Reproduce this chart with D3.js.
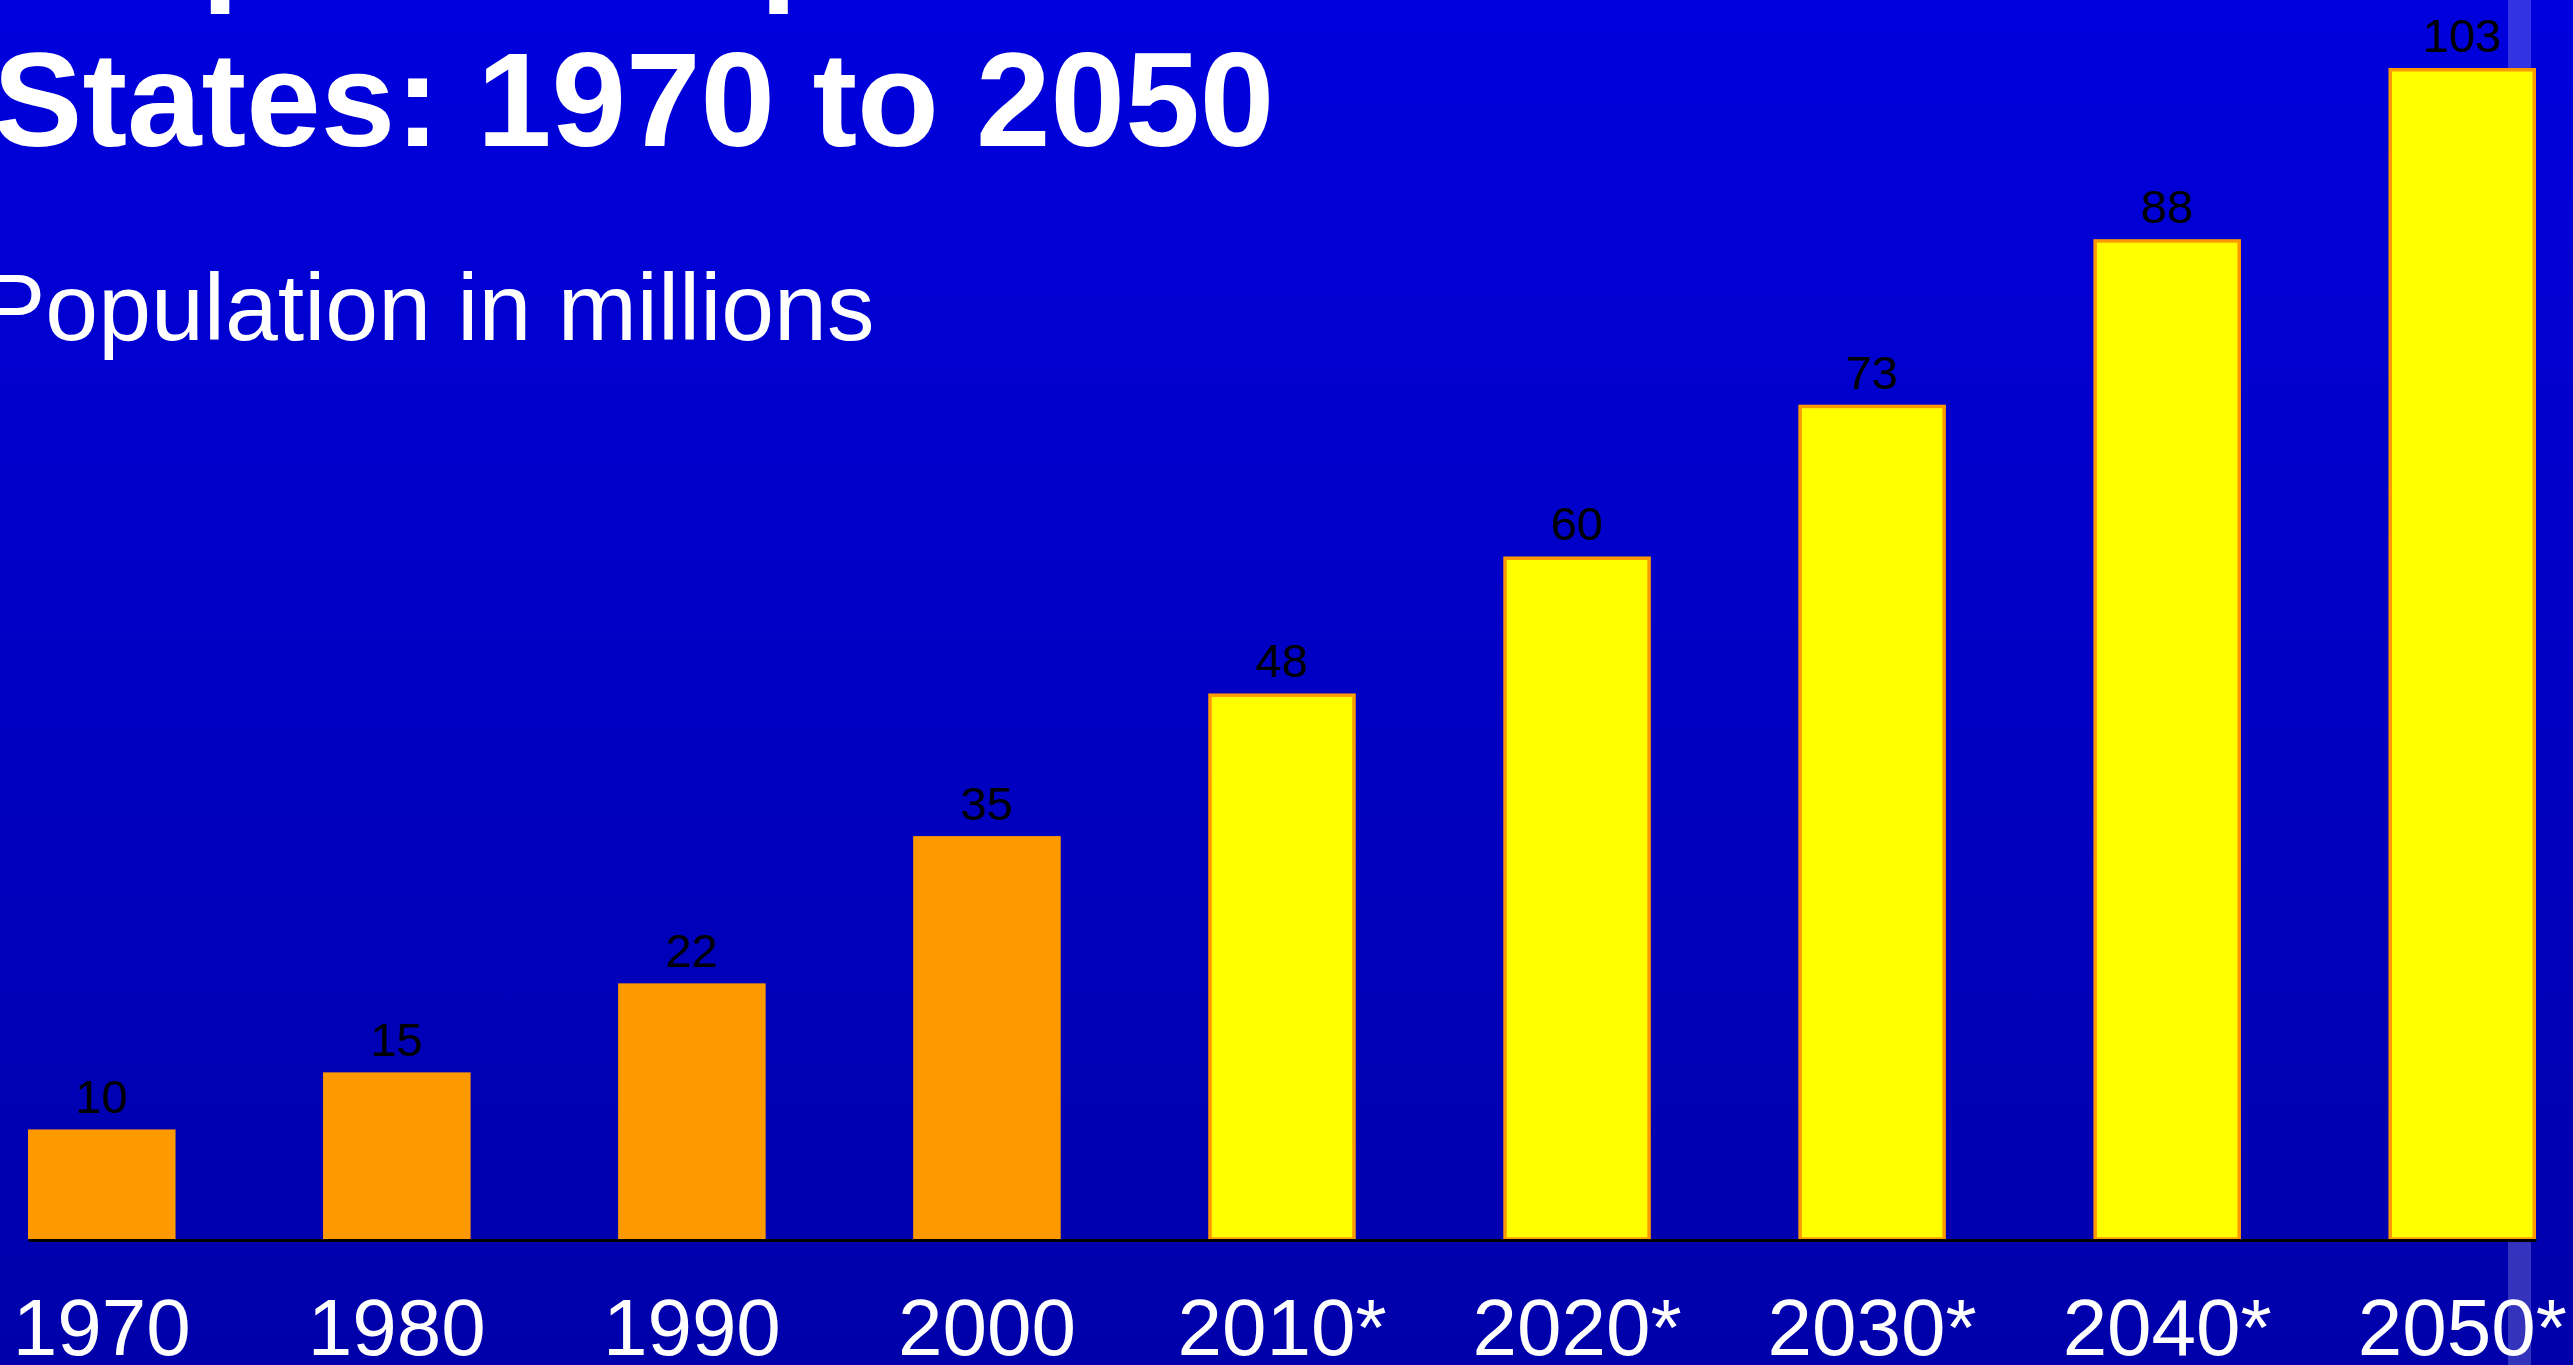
<!DOCTYPE html>
<html>
<head>
<meta charset="utf-8">
<script src="https://cdn.jsdelivr.net/npm/d3@7"></script>
<style>
  body { margin: 0; overflow: hidden; background: #0000aa; }
  text { font-family: "Liberation Sans", Arial, sans-serif; }
</style>
</head>
<body>
<div id="chart"></div>
<script>
// data (millions), projections marked with *
var years = ["1970", "1980", "1990", "2000", "2010*", "2020*", "2030*", "2040*", "2050*"];
var population = [9.6, 14.6, 22.4, 35.3, 47.8, 59.8, 73.1, 87.6, 102.6];
var projected = [false, false, false, false, true, true, true, true, true];
var titleLines = ["Hispanic Population in the United", "States: 1970 to 2050"];
var subtitle = "Population in millions";

var width = 2573, height = 1365;
var baseline = 1239;

var data = years.map(function (y, i) {
    return { year: y, value: population[i], proj: projected[i] };
});

var svg = d3.select("#chart")
    .append("svg")
    .attr("width", width)
    .attr("height", height);

// background gradient
var grad = svg.append("defs").append("linearGradient")
    .attr("id", "bg")
    .attr("x1", 0).attr("y1", 0).attr("x2", 0).attr("y2", 1);
grad.append("stop").attr("offset", "0%").attr("stop-color", "#0000dd");
grad.append("stop").attr("offset", "100%").attr("stop-color", "#0000aa");

svg.append("rect")
    .attr("width", width)
    .attr("height", height)
    .attr("fill", "url(#bg)");

// pale vertical strip from the slide template
svg.append("rect")
    .attr("x", 2508)
    .attr("y", 0)
    .attr("width", 23)
    .attr("height", height)
    .attr("fill", "#ffffff")
    .attr("fill-opacity", 0.2);

// set x range
var x = d3.scaleBand()
    .domain(years)
    .range([28, 2536])
    .paddingInner(0.5)
    .paddingOuter(0);

// set y range
var y = d3.scaleLinear()
    .domain([0, d3.max(population)])
    .range([baseline, 68]);

// bars
svg.append("g")
    .selectAll("rect")
    .data(data)
    .enter()
    .append("rect")
    .attr("x", function (d) { return d.proj ? x(d.year) + 1.75 : x(d.year); })
    .attr("y", function (d) { return d.proj ? y(d.value) + 1.75 : y(d.value); })
    .attr("width", function (d) { return d.proj ? x.bandwidth() - 3.5 : x.bandwidth(); })
    .attr("height", function (d) { return d.proj ? baseline - y(d.value) - 1.75 : baseline - y(d.value); })
    .attr("fill", function (d) { return d.proj ? "#ffff00" : "#ff9900"; })
    .attr("stroke", function (d) { return d.proj ? "#ff9900" : "none"; })
    .attr("stroke-width", 3.5);

// value labels
svg.append("g")
    .selectAll("text")
    .data(data)
    .enter()
    .append("text")
    .attr("x", function (d) { return x(d.year) + x.bandwidth() / 2; })
    .attr("y", function (d) { return y(d.value) - 16; })
    .attr("text-anchor", "middle")
    .attr("font-size", 47)
    .attr("fill", "#000000")
    .text(function (d) { return Math.round(d.value); });

// x axis
var xAxis = svg.append("g")
    .attr("transform", "translate(0," + (baseline + 1) + ")")
    .call(d3.axisBottom(x).tickSize(0).tickSizeOuter(0).tickPadding(58));

xAxis.select(".domain")
    .attr("stroke", "#000000")
    .attr("stroke-width", 3);

xAxis.selectAll(".tick text")
    .attr("font-family", "'Liberation Sans', Arial, sans-serif")
    .attr("font-size", 80)
    .attr("fill", "#ffffff");

// title, top line runs off the slide
svg.append("g")
    .selectAll("text")
    .data(titleLines)
    .enter()
    .append("text")
    .attr("x", -7)
    .attr("y", function (d, i) { return -14 + i * 160; })
    .attr("font-size", 134)
    .attr("font-weight", "bold")
    .attr("fill", "#ffffff")
    .text(function (d) { return d; });

svg.append("text")
    .attr("x", -18)
    .attr("y", 340)
    .attr("font-size", 95)
    .attr("fill", "#ffffff")
    .text(subtitle);
</script>
</body>
</html>
